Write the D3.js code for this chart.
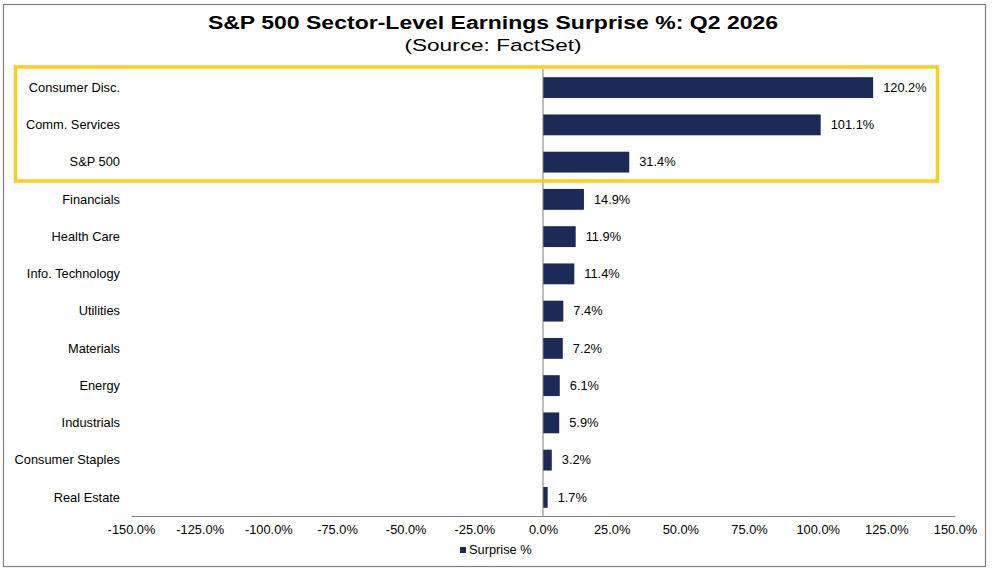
<!DOCTYPE html>
<html lang="en">
<head>
<meta charset="UTF-8">
<title>Earnings Surprise</title>
<script src="https://cdnjs.cloudflare.com/ajax/libs/d3/7.8.5/d3.min.js"></script>
<style>
    body { margin: 0; background: #fff; }
    text { font-family: "Liberation Sans", Arial, sans-serif; fill: #000; }
</style>
</head>
<body>
<svg id="chart" width="993" height="574"></svg>
<script>
    // data
    const sectors = ["Consumer Disc.", "Comm. Services", "S&P 500", "Financials", "Health Care",
        "Info. Technology", "Utilities", "Materials", "Energy", "Industrials",
        "Consumer Staples", "Real Estate"];
    const surprise = [120.2, 101.1, 31.4, 14.9, 11.9, 11.4, 7.4, 7.2, 6.1, 5.9, 3.2, 1.7];
    const tickValues = [-150, -125, -100, -75, -50, -25, 0, 25, 50, 75, 100, 125, 150];

    const svg = d3.select("#chart");
    const barColor = "#1b2a56";

    // the source picture has wide-set lettering, so stretch text around its anchor x
    function stretch(sel, k) {
        sel.attr("transform", function () {
            const ax = +d3.select(this).attr("x") || 0;
            return `translate(${ax},0) scale(${k},1) translate(${-ax},0)`;
        });
    }

    // outer frame
    svg.append("rect")
        .attr("x", 3.5).attr("y", 4.5)
        .attr("width", 982).attr("height", 562)
        .attr("fill", "#fff")
        .attr("stroke", "#7f7f7f")
        .attr("stroke-width", 1.2);

    svg.append("text")
        .attr("x", 493).attr("y", 29)
        .attr("text-anchor", "middle")
        .style("font-size", "18px")
        .style("font-weight", "bold")
        .text("S&P 500 Sector-Level Earnings Surprise %: Q2 2026")
        .call(stretch, 1.28);

    svg.append("text")
        .attr("x", 493).attr("y", 51)
        .attr("text-anchor", "middle")
        .style("font-size", "17px")
        .text("(Source: FactSet)")
        .call(stretch, 1.33);

    const x = d3.scaleLinear().domain([-150, 150]).range([131, 955]);
    const y = d3.scaleBand().domain(sectors).range([69, 516]).paddingInner(0.44).paddingOuter(0.22);

    // bars
    svg.append("g")
        .selectAll("rect")
        .data(sectors)
        .join("rect")
        .attr("x", (d, i) => x(Math.min(0, surprise[i])))
        .attr("y", d => y(d))
        .attr("width", (d, i) => Math.abs(x(surprise[i]) - x(0)))
        .attr("height", y.bandwidth())
        .attr("fill", barColor);

    // value labels
    svg.append("g")
        .selectAll("text")
        .data(sectors)
        .join("text")
        .attr("x", (d, i) => x(surprise[i]) + 10)
        .attr("y", d => y(d) + y.bandwidth() / 2)
        .attr("dy", "0.35em")
        .style("font-size", "12px")
        .text((d, i) => surprise[i].toFixed(1) + "%")
        .call(stretch, 1.07);

    // category labels
    svg.append("g")
        .selectAll("text")
        .data(sectors)
        .join("text")
        .attr("x", 120)
        .attr("y", d => y(d) + y.bandwidth() / 2)
        .attr("dy", "0.35em")
        .attr("text-anchor", "end")
        .style("font-size", "12px")
        .text(d => d)
        .call(stretch, 1.07);

    // zero line
    svg.append("line")
        .attr("x1", x(0)).attr("x2", x(0))
        .attr("y1", 69).attr("y2", 516)
        .attr("stroke", "#7f7f7f")
        .attr("stroke-width", 1);

    // x axis
    const xAxis = svg.append("g")
        .attr("transform", "translate(0,516)")
        .call(d3.axisBottom(x).tickValues(tickValues).tickSize(0).tickPadding(9)
            .tickFormat(d => d.toFixed(1) + "%"));
    xAxis.select(".domain").attr("stroke", "#7f7f7f");
    xAxis.selectAll("text")
        .style("font-family", "'Liberation Sans', Arial, sans-serif")
        .style("font-size", "12px")
        .attr("fill", "#000")
        .call(stretch, 1.07);

    // highlight box
    svg.append("rect")
        .attr("x", 15.5).attr("y", 67)
        .attr("width", 922).attr("height", 114)
        .attr("fill", "none")
        .attr("stroke", "#f9cf22")
        .attr("stroke-width", 3.5);

    // legend
    const legend = svg.append("g").attr("transform", "translate(460,550)");
    legend.append("rect")
        .attr("x", 0).attr("y", -3)
        .attr("width", 6).attr("height", 6)
        .attr("fill", barColor);
    legend.append("text")
        .attr("x", 9).attr("y", 0)
        .attr("dy", "0.35em")
        .style("font-size", "12px")
        .text("Surprise %")
        .call(stretch, 1.07);
</script>
</body>
</html>
